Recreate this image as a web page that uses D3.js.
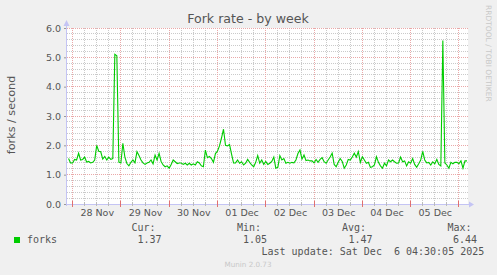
<!DOCTYPE html>
<html>
<head>
<meta charset="utf-8">
<script src="https://cdn.jsdelivr.net/npm/d3@7"></script>
<style>
  body { margin: 0; background: #f0f0f0; }
  svg { display: block; }
</style>
</head>
<body>
<svg width="497" height="275"></svg>
<script>
// hourly samples starting at firstSample
const firstSample = "2025-11-27T22:00:00Z";
const forks = [
  1.55, 1.4, 1.4, 1.52, 1.5, 1.73, 1.5, 1.52, 1.6, 1.43,
  1.45, 1.4, 1.42, 1.5, 2.0, 1.8, 1.78, 1.53, 1.62, 1.5,
  1.6, 1.52, 1.55, 5.1, 5.05, 1.43, 1.4, 2.07, 1.6, 1.38,
  1.3, 1.42, 1.5, 1.4, 1.78, 1.65, 1.5, 1.4, 1.35, 1.4,
  1.42, 1.5, 1.37, 1.67, 1.5, 1.73, 1.45, 1.33, 1.27, 1.3,
  1.22, 1.35, 1.5, 1.44, 1.38, 1.4, 1.4, 1.35, 1.39, 1.33,
  1.39, 1.33, 1.37, 1.33, 1.44, 1.4, 1.3, 1.27, 1.84, 1.58,
  1.62, 1.55, 1.42, 1.72, 1.8, 1.98, 2.25, 2.55, 2.0, 1.98,
  2.03, 1.7, 1.4, 1.4, 1.5, 1.39, 1.44, 1.33, 1.39, 1.52,
  1.42, 1.33, 1.27, 1.42, 1.65, 1.39, 1.5, 1.35, 1.45, 1.35,
  1.39, 1.45, 1.6, 1.22, 1.25, 1.65, 1.5, 1.55, 1.39, 1.42,
  1.39, 1.42, 1.4, 1.5, 1.72, 1.84, 1.53, 1.67, 1.48, 1.5,
  1.47, 1.47, 1.4, 1.52, 1.42, 1.52, 1.58, 1.44, 1.39, 1.5,
  1.6, 1.73, 1.35, 1.27, 1.42, 1.55, 1.45, 1.22, 1.33, 1.52,
  1.5, 1.6, 1.73, 1.6, 1.79, 1.42, 1.61, 1.5, 1.39, 1.42,
  1.25, 1.27, 1.33, 1.61, 1.42, 1.3, 1.22, 1.39, 1.3, 1.5,
  1.44, 1.5, 1.44, 1.39, 1.4, 1.6, 1.44, 1.47, 1.3, 1.44,
  1.39, 1.55, 1.35, 1.25, 1.37, 1.5, 1.79, 1.5, 1.4, 1.42,
  1.33, 1.44, 1.37, 1.52, 1.35, 1.3, 5.57, 1.4, 1.33, 1.22,
  1.42, 1.37, 1.42, 1.42, 1.37, 1.47, 1.22, 1.47, 1.47
];
const yTicks = [0, 1, 2, 3, 4, 5, 6];
const dayTicks = ["2025-11-28", "2025-11-29", "2025-11-30", "2025-12-01",
                  "2025-12-02", "2025-12-03", "2025-12-04", "2025-12-05"];
const statLabels = ["Cur:", "Min:", "Avg:", "Max:"];
const statValues = ["1.37", "1.05", "1.47", "6.44"];
const seriesName = "forks";
const lastUpdate = "Last update: Sat Dec  6 04:30:05 2025";

const textColor = "#555";
const mono = "'DejaVu Sans Mono', monospace";
const sans = "'DejaVu Sans', sans-serif";

const svg = d3.select("svg");
svg.append("rect").attr("width", 497).attr("height", 275).attr("fill", "#f0f0f0");

const startDate = new Date(firstSample);
const data = forks.map((v, i) => ({ t: d3.utcHour.offset(startDate, i), v: v }));

const x = d3.scaleUtc()
    .domain([new Date("2025-11-27T21:14:00Z"), new Date("2025-12-06T04:30:05Z")])
    .range([67, 468]);
const y = d3.scaleLinear().domain([0, 6]).range([204, 28]);

const left = x.range()[0], right = x.range()[1];
const crisp = v => Math.floor(v) + 0.5;

// plot background
svg.append("rect")
    .attr("x", left).attr("y", y(6))
    .attr("width", right - left).attr("height", y(0) - y(6))
    .attr("fill", "#fff");

// grid (dotted lines)
const grid = svg.append("g").attr("stroke-width", 1);
const minorY = d3.range(0, 30).map(k => k * 0.2).filter(v => Math.abs(v - Math.round(v)) > 0.01);
const hours6 = d3.utcHour.every(6).range(x.domain()[0], x.domain()[1]).filter(d => d.getUTCHours() !== 0);
const midnights = d3.utcDay.range(x.domain()[0], x.domain()[1]);

function hLines(vals, color) {
  grid.append("g").selectAll("line").data(vals).join("line")
      .attr("x1", left).attr("x2", right)
      .attr("y1", d => crisp(y(d))).attr("y2", d => crisp(y(d)))
      .attr("stroke", color).attr("stroke-dasharray", "1,1");
}
function vLines(vals, color) {
  grid.append("g").selectAll("line").data(vals).join("line")
      .attr("x1", d => crisp(x(d))).attr("x2", d => crisp(x(d)))
      .attr("y1", Math.floor(y(6))).attr("y2", Math.floor(y(0)))
      .attr("stroke", color).attr("stroke-dasharray", "1,1");
}
hLines(minorY, "#cacaca");
vLines(hours6, "#cacaca");
hLines(yTicks.slice(1), "#eaa8a8");
vLines(midnights, "#eaa8a8");

// axes lines + arrows
const axisColor = "#c4c4f4";
svg.append("line").attr("x1", left - 0.5).attr("x2", left - 0.5)
    .attr("y1", y(0) + 2).attr("y2", y(6) - 4).attr("stroke", axisColor);
svg.append("line").attr("x1", left - 3).attr("x2", right + 2)
    .attr("y1", crisp(y(0))).attr("y2", crisp(y(0))).attr("stroke", axisColor);
svg.append("path")
    .attr("d", `M${left - 3.5},${y(6) - 2} L${left + 2.5},${y(6) - 2} L${left - 0.5},${y(6) - 8} Z`)
    .attr("fill", axisColor);
svg.append("path")
    .attr("d", `M${right + 1},${crisp(y(0)) - 3} L${right + 1},${crisp(y(0)) + 3} L${right + 6},${crisp(y(0))} Z`)
    .attr("fill", axisColor);

// x ticks
svg.append("g").selectAll("line").data(hours6).join("line")
    .attr("x1", d => crisp(x(d))).attr("x2", d => crisp(x(d)))
    .attr("y1", 202).attr("y2", 206).attr("stroke", "#bbb");
svg.append("g").selectAll("line").data(midnights).join("line")
    .attr("x1", d => crisp(x(d))).attr("x2", d => crisp(x(d)))
    .attr("y1", 201).attr("y2", 207).attr("stroke", "#e07070");

// y axis labels
const yAxis = svg.append("g")
    .attr("transform", `translate(${left - 1},0)`)
    .call(d3.axisLeft(y).tickValues(yTicks).tickFormat(d3.format(".1f")).tickSize(2).tickPadding(3));
yAxis.select(".domain").remove();
yAxis.selectAll(".tick line").attr("stroke", "#999");
yAxis.selectAll("text").attr("font-family", sans).attr("font-size", 9.5).attr("fill", textColor);

// x axis labels at noon
const noons = dayTicks.map(s => d3.utcHour.offset(new Date(s + "T00:00:00Z"), 12));
const xAxis = svg.append("g")
    .attr("transform", `translate(0,${y(0)})`)
    .call(d3.axisBottom(x).tickValues(noons).tickFormat(d3.utcFormat("%d %b")).tickSize(0).tickPadding(5.4));
xAxis.select(".domain").remove();
xAxis.selectAll("text").attr("font-family", sans).attr("font-size", 9.5).attr("fill", textColor);

// line
const line = d3.line().x(d => x(d.t)).y(d => y(d.v));
svg.append("path").datum(data)
    .attr("d", line)
    .attr("fill", "none")
    .attr("stroke", "#00cc00")
    .attr("stroke-width", 1.1)
    .attr("stroke-linejoin", "miter");

// title
svg.append("text").attr("x", 248).attr("y", 23)
    .attr("text-anchor", "middle").attr("font-family", sans).attr("font-size", 12.6)
    .attr("fill", textColor).text("Fork rate - by week");

// y label
svg.append("text").attr("transform", "translate(15,115) rotate(-90)")
    .attr("text-anchor", "middle").attr("font-family", sans).attr("font-size", 11.2)
    .attr("fill", textColor).text("forks / second");

// watermark
svg.append("text").attr("transform", "translate(486,5) rotate(90)")
    .attr("font-family", sans).attr("font-size", 7.5)
    .attr("fill", "#c8c8c8").text("RRDTOOL / TOBI OETIKER");

// legend
const statX = [131.5, 237, 342, 447.5];
const valX = [137.5, 243, 348.5, 453];
svg.append("rect").attr("x", 14).attr("y", 237).attr("width", 6).attr("height", 6).attr("fill", "#00cc00");
svg.append("text").attr("x", 27).attr("y", 243).attr("font-family", mono).attr("font-size", 10)
    .attr("fill", textColor).text(seriesName);
svg.append("g").selectAll("text").data(statLabels).join("text")
    .attr("x", (d, i) => statX[i]).attr("y", 231)
    .attr("font-family", mono).attr("font-size", 10).attr("fill", textColor).text(d => d);
svg.append("g").selectAll("text").data(statValues).join("text")
    .attr("x", (d, i) => valX[i]).attr("y", 243)
    .attr("font-family", mono).attr("font-size", 10).attr("fill", textColor).text(d => d);
svg.append("text").attr("x", 261.5).attr("y", 255)
    .style("white-space", "pre")
    .attr("font-family", mono).attr("font-size", 10).attr("fill", textColor).text(lastUpdate);
svg.append("text").attr("x", 248).attr("y", 266.5).attr("text-anchor", "middle")
    .attr("font-family", sans).attr("font-size", 7.2).attr("fill", "#c8c8c8").text("Munin 2.0.73");
</script>
</body>
</html>
